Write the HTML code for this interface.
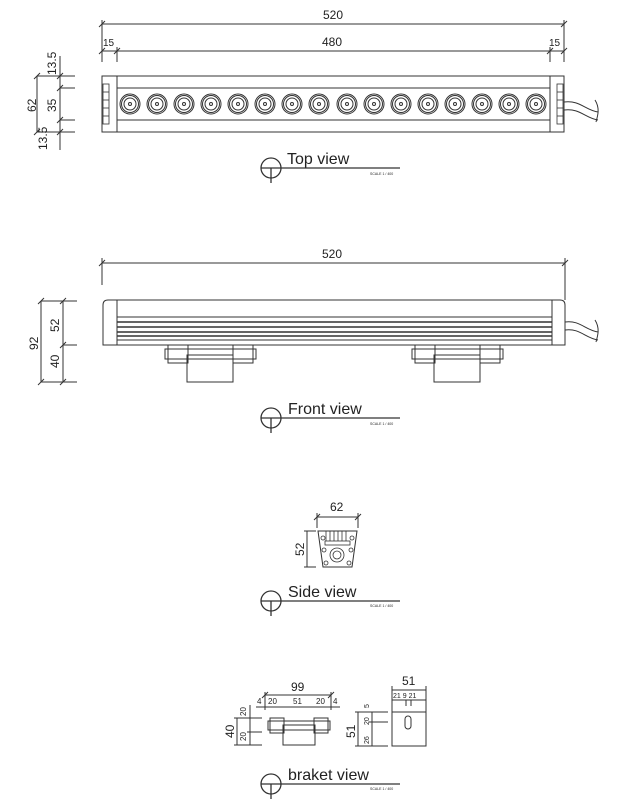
<!DOCTYPE html>
<html><head><meta charset="utf-8"><style>
html,body{margin:0;padding:0;background:#fff;}
svg{display:block;}
text{font-family:"Liberation Sans",sans-serif;fill:#222;}
</style></head><body>
<svg width="633" height="806" viewBox="0 0 633 806" xmlns="http://www.w3.org/2000/svg" stroke="#333" fill="none" stroke-width="1">
<!-- TOP VIEW dims -->
<line x1="102" y1="24" x2="564" y2="24"/>
<line x1="102" y1="51" x2="564" y2="51"/>
<line x1="102" y1="20" x2="102" y2="62"/><line x1="564" y1="20" x2="564" y2="62"/>
<line x1="117" y1="47" x2="117" y2="62"/><line x1="550" y1="47" x2="550" y2="62"/>
<g stroke-width="1"><line x1="99" y1="27" x2="105" y2="21"/><line x1="561" y1="27" x2="567" y2="21"/>
<line x1="99" y1="54" x2="105" y2="48"/><line x1="114" y1="54" x2="120" y2="48"/><line x1="547" y1="54" x2="553" y2="48"/><line x1="561" y1="54" x2="567" y2="48"/></g>
<text x="323" y="19" font-size="12" stroke="none">520</text>
<text x="322" y="46" font-size="12" stroke="none">480</text>
<text x="103" y="46" font-size="10" stroke="none">15</text>
<text x="549" y="46" font-size="10" stroke="none">15</text>
<!-- left vertical dims -->
<line x1="37" y1="76" x2="37" y2="132"/>
<line x1="60" y1="56" x2="60" y2="150"/>
<line x1="37" y1="76" x2="75" y2="76"/><line x1="60" y1="88" x2="75" y2="88"/>
<line x1="60" y1="120" x2="75" y2="120"/><line x1="37" y1="132" x2="75" y2="132"/>
<line x1="34" y1="79" x2="40" y2="73"/><line x1="34" y1="135" x2="40" y2="129"/>
<line x1="57" y1="79" x2="63" y2="73"/><line x1="57" y1="91" x2="63" y2="85"/><line x1="57" y1="123" x2="63" y2="117"/><line x1="57" y1="135" x2="63" y2="129"/>
<text font-size="12" stroke="none" transform="translate(36,112) rotate(-90)">62</text>
<text font-size="12" stroke="none" transform="translate(56,75) rotate(-90)">13.5</text>
<text font-size="12" stroke="none" transform="translate(56,112) rotate(-90)">35</text>
<text font-size="12" stroke="none" transform="translate(47,150) rotate(-90)">13.5</text>
<!-- top view bar -->
<rect x="102" y="76" width="462" height="56"/>
<line x1="117" y1="88" x2="550" y2="88"/><line x1="117" y1="120" x2="550" y2="120"/>
<line x1="117" y1="76" x2="117" y2="132"/><line x1="550" y1="76" x2="550" y2="132"/>
<g stroke-width="0.8">
<rect x="103" y="84" width="6" height="40"/><line x1="103" y1="92" x2="109" y2="92"/><line x1="103" y1="100" x2="109" y2="100"/><line x1="103" y1="108" x2="109" y2="108"/><line x1="103" y1="116" x2="109" y2="116"/>
<rect x="557" y="84" width="6" height="40"/><line x1="557" y1="92" x2="563" y2="92"/><line x1="557" y1="100" x2="563" y2="100"/><line x1="557" y1="108" x2="563" y2="108"/><line x1="557" y1="116" x2="563" y2="116"/>
</g>
<path d="M564 102 C580 100,585 110,598 112 M564 110 C580 108,585 118,598 120 M595 100 C600 108,598 115,596 122"/>
<g id="leds">
<g transform="translate(130,104)"><circle r="10"/><circle r="8.5"/><circle r="6"/><circle r="1.5"/></g>
<g transform="translate(157,104)"><circle r="10"/><circle r="8.5"/><circle r="6"/><circle r="1.5"/></g>
<g transform="translate(184,104)"><circle r="10"/><circle r="8.5"/><circle r="6"/><circle r="1.5"/></g>
<g transform="translate(211,104)"><circle r="10"/><circle r="8.5"/><circle r="6"/><circle r="1.5"/></g>
<g transform="translate(238,104)"><circle r="10"/><circle r="8.5"/><circle r="6"/><circle r="1.5"/></g>
<g transform="translate(265,104)"><circle r="10"/><circle r="8.5"/><circle r="6"/><circle r="1.5"/></g>
<g transform="translate(292,104)"><circle r="10"/><circle r="8.5"/><circle r="6"/><circle r="1.5"/></g>
<g transform="translate(319,104)"><circle r="10"/><circle r="8.5"/><circle r="6"/><circle r="1.5"/></g>
<g transform="translate(347,104)"><circle r="10"/><circle r="8.5"/><circle r="6"/><circle r="1.5"/></g>
<g transform="translate(374,104)"><circle r="10"/><circle r="8.5"/><circle r="6"/><circle r="1.5"/></g>
<g transform="translate(401,104)"><circle r="10"/><circle r="8.5"/><circle r="6"/><circle r="1.5"/></g>
<g transform="translate(428,104)"><circle r="10"/><circle r="8.5"/><circle r="6"/><circle r="1.5"/></g>
<g transform="translate(455,104)"><circle r="10"/><circle r="8.5"/><circle r="6"/><circle r="1.5"/></g>
<g transform="translate(482,104)"><circle r="10"/><circle r="8.5"/><circle r="6"/><circle r="1.5"/></g>
<g transform="translate(509,104)"><circle r="10"/><circle r="8.5"/><circle r="6"/><circle r="1.5"/></g>
<g transform="translate(536,104)"><circle r="10"/><circle r="8.5"/><circle r="6"/><circle r="1.5"/></g>
</g>
<!-- labels -->
<g stroke-width="1.3">
<circle cx="271" cy="168" r="10"/><line x1="261" y1="168" x2="400" y2="168"/><line x1="271" y1="168" x2="271" y2="183"/>
<circle cx="271" cy="418" r="10"/><line x1="261" y1="418" x2="400" y2="418"/><line x1="271" y1="418" x2="271" y2="433"/>
<circle cx="271" cy="601" r="10"/><line x1="261" y1="601" x2="400" y2="601"/><line x1="271" y1="601" x2="271" y2="616"/>
<circle cx="271" cy="784" r="10"/><line x1="261" y1="784" x2="400" y2="784"/><line x1="271" y1="784" x2="271" y2="799"/>
</g>
<g stroke="none" font-size="16">
<text x="287" y="164">Top view</text>
<text x="288" y="414">Front view</text>
<text x="288" y="597">Side view</text>
<text x="288" y="780">braket view</text>
</g>
<g stroke="none" font-size="3.5">
<text x="370" y="175">SCALE 1 / 400</text><text x="370" y="425">SCALE 1 / 400</text>
<text x="370" y="607">SCALE 1 / 400</text><text x="370" y="790">SCALE 1 / 400</text>
</g>
<!-- FRONT VIEW -->
<line x1="102" y1="263" x2="565" y2="263"/>
<line x1="102" y1="258" x2="102" y2="285"/><line x1="565" y1="258" x2="565" y2="300"/>
<line x1="99" y1="266" x2="105" y2="260"/><line x1="562" y1="266" x2="568" y2="260"/>
<text x="322" y="258" font-size="12" stroke="none">520</text>
<line x1="41" y1="301" x2="41" y2="382"/><line x1="63" y1="301" x2="63" y2="382"/>
<line x1="41" y1="301" x2="77" y2="301"/><line x1="63" y1="345" x2="77" y2="345"/><line x1="41" y1="382" x2="77" y2="382"/>
<line x1="38" y1="304" x2="44" y2="298"/><line x1="60" y1="304" x2="66" y2="298"/><line x1="60" y1="348" x2="66" y2="342"/><line x1="38" y1="385" x2="44" y2="379"/><line x1="60" y1="385" x2="66" y2="379"/>
<text font-size="12" stroke="none" transform="translate(38,350) rotate(-90)">92</text>
<text font-size="12" stroke="none" transform="translate(59,332) rotate(-90)">52</text>
<text font-size="12" stroke="none" transform="translate(59,368) rotate(-90)">40</text>
<path d="M108 300 H560 Q565 300 565 305 V345 H103 V305 Q103 300 108 300 Z"/>
<line x1="117" y1="300" x2="117" y2="345"/><line x1="552" y1="300" x2="552" y2="345"/>
<line x1="117" y1="317" x2="552" y2="317"/>
<g stroke-width="1.6"><line x1="117" y1="322" x2="552" y2="322"/><line x1="117" y1="327" x2="552" y2="327"/><line x1="117" y1="332" x2="552" y2="332"/><line x1="117" y1="336" x2="552" y2="336"/></g>
<line x1="117" y1="340" x2="552" y2="340"/>
<path d="M565 322 C580 320,585 330,598 332 M565 330 C580 328,585 338,598 340 M595 320 C600 328,598 335,596 342"/>
<g id="br1">
<rect x="165" y="349" width="91" height="10"/>
<rect x="168" y="345" width="20" height="18"/><rect x="233" y="345" width="20" height="18"/>
<rect x="187" y="355" width="46" height="27"/>
</g>
<g transform="translate(247,0)"><rect x="165" y="349" width="91" height="10"/>
<rect x="168" y="345" width="20" height="18"/><rect x="233" y="345" width="20" height="18"/>
<rect x="187" y="355" width="46" height="27"/></g>
<!-- SIDE VIEW -->
<line x1="317" y1="517" x2="358" y2="517"/>
<line x1="317" y1="513" x2="317" y2="528"/><line x1="358" y1="513" x2="358" y2="528"/>
<line x1="314" y1="520" x2="320" y2="514"/><line x1="355" y1="520" x2="361" y2="514"/>
<text x="330" y="511" font-size="12" stroke="none">62</text>
<line x1="307" y1="531" x2="307" y2="567"/><line x1="304" y1="531" x2="316" y2="531"/><line x1="304" y1="567" x2="316" y2="567"/>
<text font-size="12" stroke="none" transform="translate(304,556) rotate(-90)">52</text>
<path d="M318 531 H357 L352 567 H323 Z"/>
<g stroke-width="0.8"><line x1="326" y1="531" x2="326" y2="541"/><line x1="330" y1="531" x2="330" y2="541"/><line x1="334" y1="531" x2="334" y2="541"/><line x1="338" y1="531" x2="338" y2="541"/><line x1="342" y1="531" x2="342" y2="541"/><line x1="346" y1="531" x2="346" y2="541"/>
<rect x="325" y="541" width="25" height="4"/>
<circle cx="337" cy="555" r="7"/><circle cx="337" cy="555" r="4"/>
<circle cx="323" cy="538" r="2"/><circle cx="352" cy="538" r="2"/><circle cx="324" cy="550" r="2"/><circle cx="351" cy="550" r="2"/><circle cx="326" cy="563" r="2"/><circle cx="349" cy="563" r="2"/></g>
<!-- BRACKET VIEW -->
<line x1="265" y1="695" x2="331" y2="695"/><line x1="265" y1="692" x2="265" y2="710"/><line x1="331" y1="692" x2="331" y2="710"/>
<line x1="262" y1="698" x2="268" y2="692"/><line x1="328" y1="698" x2="334" y2="692"/>
<text x="291" y="691" font-size="12" stroke="none">99</text>
<line x1="256" y1="707" x2="340" y2="707"/>
<g font-size="8" stroke="none"><text x="257" y="704">4</text><text x="268" y="704">20</text><text x="293" y="704">51</text><text x="316" y="704">20</text><text x="333" y="704">4</text></g>
<line x1="237" y1="718" x2="237" y2="745"/><line x1="250" y1="705" x2="250" y2="745"/>
<line x1="234" y1="718" x2="262" y2="718"/><line x1="247" y1="732" x2="262" y2="732"/><line x1="234" y1="745" x2="262" y2="745"/>
<text font-size="12" stroke="none" transform="translate(234,738) rotate(-90)">40</text>
<text font-size="8" stroke="none" transform="translate(246,716) rotate(-90)">20</text>
<text font-size="8" stroke="none" transform="translate(246,741) rotate(-90)">20</text>
<rect x="268" y="721" width="62" height="9"/>
<rect x="270" y="718" width="14" height="15"/><rect x="314" y="718" width="14" height="15"/>
<rect x="283" y="725" width="32" height="20"/>
<line x1="392" y1="690" x2="426" y2="690"/><line x1="392" y1="686" x2="392" y2="712"/><line x1="426" y1="686" x2="426" y2="712"/>
<text x="402" y="685" font-size="12" stroke="none">51</text>
<line x1="392" y1="700" x2="426" y2="700"/>
<text x="393" y="698" font-size="7" stroke="none">21 9 21</text>
<line x1="406" y1="700" x2="406" y2="706"/><line x1="411" y1="700" x2="411" y2="706"/>
<line x1="358" y1="712" x2="358" y2="746"/><line x1="372" y1="712" x2="372" y2="746"/>
<line x1="355" y1="712" x2="388" y2="712"/><line x1="369" y1="722" x2="388" y2="722"/><line x1="355" y1="746" x2="388" y2="746"/>
<text font-size="12" stroke="none" transform="translate(355,738) rotate(-90)">51</text>
<text font-size="7" stroke="none" transform="translate(369,708) rotate(-90)">5</text>
<text font-size="7" stroke="none" transform="translate(369,725) rotate(-90)">20</text>
<text font-size="7" stroke="none" transform="translate(369,744) rotate(-90)">26</text>
<rect x="392" y="712" width="34" height="34"/>
<rect x="405" y="716" width="6" height="13" rx="3"/>
</svg>
</body></html>
